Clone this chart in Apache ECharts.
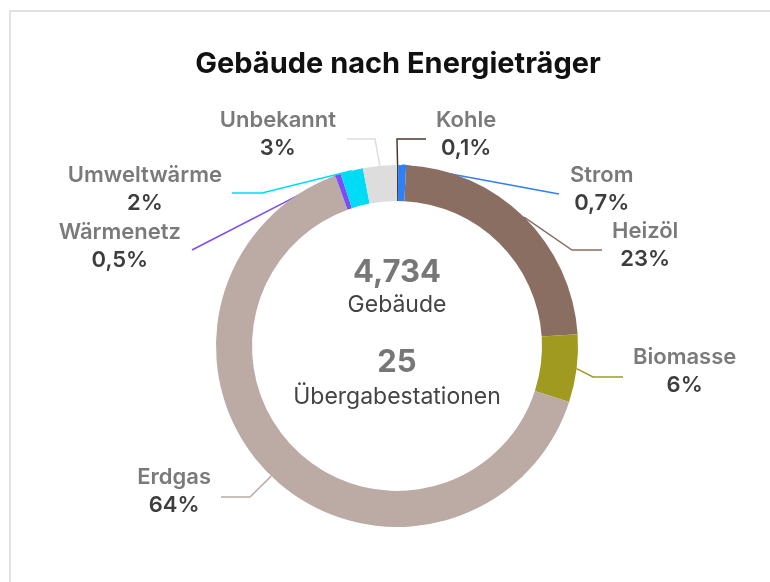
<!DOCTYPE html>
<html>
<head>
<meta charset="utf-8">
<script src="https://cdn.jsdelivr.net/npm/echarts@6/dist/echarts.min.js"></script>
<style>
  html, body { margin: 0; padding: 0; background: #fff; }
  .frame {
    position: absolute; left: 9px; top: 10px; width: 761px; height: 572px;
    border-left: 2px solid #e2e2e2; border-top: 2px solid #e2e2e2;
  }
  #chart { position: absolute; left: 0; top: 0; width: 770px; height: 582px; }
</style>
</head>
<body>
<div class="frame"></div>
<div id="chart"></div>
<script>
// Anteile in Prozent, im Uhrzeigersinn ab 12 Uhr
const categories = ['Kohle', 'Strom', 'Heizöl', 'Biomasse', 'Erdgas', 'Wärmenetz', 'Umweltwärme', 'Unbekannt'];
const shares = [0.1, 0.7, 23, 6, 64, 0.5, 2, 3];
const colors = ['#4b3a33', '#2f7ff5', '#8b6e62', '#a09a20', '#bcaaa4', '#7b4ef5', '#00dcf5', '#dddddd'];
const buildingsTotal = '4,734';
const stationsTotal = '25';

const CX = 397, CY = 346;

// Beschriftungen: Knick, Ende der Linie, Ankerpunkt des Textes (relativ zur Mitte)
const labelSpots = [
  { elbow: [0, -207], end: [29, -207], text: [39, -212], align: 'left' },
  { elbow: [162, -152], end: [162, -152], text: [173, -157], align: 'left' },
  { elbow: [175, -96], end: [205, -96], text: [215, -101], align: 'left' },
  { elbow: [196, 31], end: [226, 31], text: [236, 25], align: 'left' },
  { elbow: [-147, 151], end: [-176, 151], text: [-186, 145], align: 'right' },
  { elbow: [-205, -96], end: [-205, -96], text: [-216, -100], align: 'right' },
  { elbow: [-135, -153], end: [-165, -153], text: [-175, -157], align: 'right' },
  { elbow: [-22, -207], end: [-50, -207], text: [-61, -212], align: 'right' }
];

const fmt = v => String(v).replace('.', ',') + '%';

const centerText = (txt, y, font, fill) => ({
  type: 'text', x: CX, y: y,
  style: { text: txt, font: font, fill: fill, textAlign: 'center', textVerticalAlign: 'middle' }
});

const chart = echarts.init(document.getElementById('chart'));
chart.setOption({
  animation: false,
  title: {
    text: 'Gebäude nach Energieträger',
    left: CX - 4,
    textAlign: 'center',
    top: 45,
    textStyle: { fontFamily: 'Inter', fontWeight: 700, fontSize: 29, color: '#111' }
  },
  graphic: [
    centerText(buildingsTotal, 273, 'bold 31px Inter', '#777'),
    centerText('Gebäude', 305, '23px Inter', '#444'),
    centerText(stationsTotal, 363, 'bold 31px Inter', '#777'),
    centerText('Übergabestationen', 397, '23px Inter', '#444')
  ],
  series: [{
    type: 'pie',
    center: [CX, CY],
    radius: [145, 181],
    startAngle: 90,
    clockwise: true,
    avoidLabelOverlap: false,
    data: categories.map((name, i) => ({
      name,
      value: shares[i],
      itemStyle: { color: colors[i] },
      labelLine: { lineStyle: { color: colors[i], width: 1.5 } }
    })),
    label: {
      show: true,
      formatter: p => '{n|' + p.name + '}\n{v|' + fmt(p.value) + '}',
      rich: {
        n: { fontFamily: 'Inter', fontWeight: 600, fontSize: 22, color: '#7a7a7a', lineHeight: 28, align: 'center' },
        v: { fontFamily: 'Inter', fontWeight: 600, fontSize: 22, color: '#3d3d3d', lineHeight: 28, align: 'center' }
      }
    },
    labelLine: { show: true, length: 20, length2: 20 },
    labelLayout: function (params) {
      const s = labelSpots[params.dataIndex];
      const start = params.labelLinePoints ? params.labelLinePoints[0] : [CX, CY];
      return {
        x: CX + s.text[0],
        y: CY + s.text[1],
        align: s.align,
        verticalAlign: 'middle',
        labelLinePoints: [
          start,
          [CX + s.elbow[0], CY + s.elbow[1]],
          [CX + s.end[0], CY + s.end[1]]
        ]
      };
    }
  }]
});
</script>
</body>
</html>
